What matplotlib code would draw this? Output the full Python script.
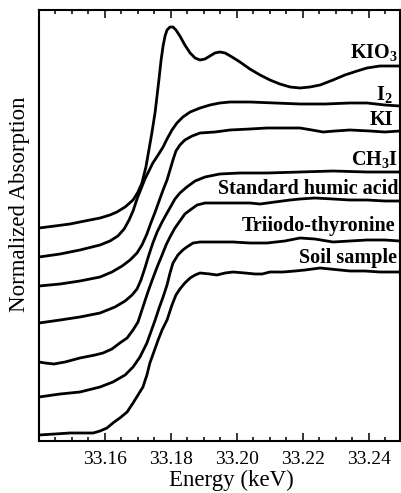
import matplotlib
matplotlib.use('Agg')
import matplotlib.pyplot as plt
from matplotlib.ticker import MultipleLocator, FixedLocator

plt.rcParams['font.family'] = ['Liberation Serif', 'DejaVu Serif']
plt.rcParams['mathtext.default'] = 'regular'

# I K-edge XANES spectra, stacked with a vertical offset for display
kio3_e = [33.1400, 33.1448, 33.1494, 33.1539, 33.1585, 33.1615, 33.1636, 33.1661, 33.1685, 33.1700,
          33.1712, 33.1724, 33.1733, 33.1742, 33.1752, 33.1758, 33.1764, 33.1770, 33.1776, 33.1782,
          33.1788, 33.1797, 33.1806, 33.1815, 33.1827, 33.1842, 33.1858, 33.1873, 33.1888, 33.1903,
          33.1918, 33.1933, 33.1948, 33.1964, 33.1985, 33.2009, 33.2039, 33.2070, 33.2100, 33.2130,
          33.2161, 33.2191, 33.2221, 33.2252, 33.2291, 33.2327, 33.2364, 33.2394, 33.2433, 33.2464,
          33.2494]
kio3_a = [2.13, 2.15, 2.17, 2.20, 2.23, 2.26, 2.29, 2.34, 2.41, 2.49,
          2.58, 2.74, 2.91, 3.08, 3.29, 3.46, 3.63, 3.81, 3.95, 4.05,
          4.11, 4.14, 4.14, 4.11, 4.05, 3.96, 3.88, 3.83, 3.81, 3.82,
          3.85, 3.88, 3.89, 3.88, 3.84, 3.79, 3.72, 3.66, 3.61, 3.57,
          3.54, 3.53, 3.54, 3.56, 3.61, 3.66, 3.70, 3.73, 3.75, 3.75,
          3.75]

i2_e = [33.1400, 33.1464, 33.1524, 33.1585, 33.1615, 33.1639, 33.1658, 33.1673, 33.1685, 33.1697,
        33.1709, 33.1721, 33.1733, 33.1745, 33.1761, 33.1776, 33.1788, 33.1803, 33.1818, 33.1836,
        33.1858, 33.1888, 33.1918, 33.1948, 33.1979, 33.2039, 33.2115, 33.2191, 33.2267, 33.2342,
        33.2394, 33.2448, 33.2494]
i2_a = [1.84, 1.87, 1.91, 1.96, 2.00, 2.05, 2.12, 2.21, 2.30, 2.42,
        2.52, 2.62, 2.70, 2.78, 2.86, 2.94, 3.02, 3.11, 3.18, 3.24,
        3.29, 3.33, 3.36, 3.38, 3.39, 3.39, 3.38, 3.37, 3.37, 3.38,
        3.38, 3.36, 3.35]

ki_e = [33.1400, 33.1464, 33.1524, 33.1585, 33.1621, 33.1652, 33.1676, 33.1697, 33.1712, 33.1727,
        33.1739, 33.1752, 33.1764, 33.1776, 33.1788, 33.1797, 33.1806, 33.1815, 33.1827, 33.1842,
        33.1864, 33.1888, 33.1933, 33.1979, 33.2039, 33.2091, 33.2145, 33.2191, 33.2227, 33.2261,
        33.2297, 33.2342, 33.2403, 33.2448, 33.2494]
ki_a = [1.55, 1.57, 1.60, 1.64, 1.69, 1.75, 1.81, 1.88, 1.96, 2.07,
        2.18, 2.29, 2.40, 2.51, 2.61, 2.71, 2.81, 2.90, 2.96, 3.01,
        3.05, 3.08, 3.09, 3.11, 3.12, 3.13, 3.13, 3.13, 3.11, 3.09,
        3.10, 3.11, 3.10, 3.09, 3.10]

ch3i_e = [33.1400, 33.1464, 33.1524, 33.1585, 33.1630, 33.1661, 33.1682, 33.1697, 33.1709, 33.1721,
          33.1733, 33.1745, 33.1758, 33.1773, 33.1788, 33.1800, 33.1812, 33.1827, 33.1848, 33.1873,
          33.1903, 33.1948, 33.2009, 33.2091, 33.2191, 33.2291, 33.2394, 33.2494]
ch3i_a = [1.18, 1.21, 1.24, 1.28, 1.34, 1.40, 1.46, 1.52, 1.61, 1.73,
          1.86, 1.98, 2.09, 2.19, 2.28, 2.35, 2.42, 2.48, 2.54, 2.60,
          2.64, 2.67, 2.68, 2.68, 2.69, 2.70, 2.69, 2.69]

humic_e = [33.1400, 33.1418, 33.1445, 33.1479, 33.1524, 33.1570, 33.1594, 33.1621, 33.1645, 33.1667,
           33.1685, 33.1700, 33.1715, 33.1730, 33.1742, 33.1758, 33.1773, 33.1785, 33.1797, 33.1812,
           33.1827, 33.1842, 33.1858, 33.1879, 33.1903, 33.1933, 33.1964, 33.1994, 33.2039, 33.2070,
           33.2115, 33.2161, 33.2191, 33.2236, 33.2291, 33.2342, 33.2394, 33.2448, 33.2494]
humic_a = [0.79, 0.78, 0.77, 0.79, 0.83, 0.86, 0.88, 0.92, 0.98, 1.03,
           1.11, 1.19, 1.34, 1.49, 1.60, 1.74, 1.86, 1.96, 2.04, 2.13,
           2.20, 2.27, 2.31, 2.36, 2.38, 2.38, 2.38, 2.38, 2.38, 2.37,
           2.39, 2.41, 2.42, 2.43, 2.42, 2.41, 2.41, 2.40, 2.40]

t3_e = [33.1400, 33.1464, 33.1524, 33.1585, 33.1624, 33.1661, 33.1685, 33.1706, 33.1727, 33.1739,
        33.1752, 33.1764, 33.1776, 33.1788, 33.1797, 33.1806, 33.1821, 33.1836, 33.1848, 33.1867,
        33.1888, 33.1933, 33.1988, 33.2039, 33.2091, 33.2145, 33.2191, 33.2236, 33.2291, 33.2342,
        33.2394, 33.2448, 33.2494]
t3_a = [0.44, 0.47, 0.49, 0.54, 0.59, 0.66, 0.74, 0.84, 0.98, 1.09,
        1.21, 1.33, 1.44, 1.56, 1.68, 1.78, 1.86, 1.91, 1.94, 1.98,
        1.99, 1.99, 1.99, 1.98, 1.98, 2.00, 2.03, 2.02, 1.99, 2.00,
        2.01, 2.01, 2.00]

soil_e = [33.1400, 33.1448, 33.1494, 33.1539, 33.1564, 33.1585, 33.1606, 33.1624, 33.1645, 33.1667,
          33.1685, 33.1700, 33.1715, 33.1727, 33.1736, 33.1748, 33.1761, 33.1773, 33.1788, 33.1803,
          33.1815, 33.1827, 33.1842, 33.1858, 33.1873, 33.1888, 33.1918, 33.1939, 33.1964, 33.1988,
          33.2024, 33.2055, 33.2076, 33.2100, 33.2139, 33.2176, 33.2206, 33.2252, 33.2282, 33.2312,
          33.2342, 33.2388, 33.2433, 33.2494]
soil_a = [0.06, 0.07, 0.08, 0.08, 0.08, 0.10, 0.13, 0.18, 0.23, 0.29,
          0.38, 0.46, 0.54, 0.66, 0.78, 0.89, 1.01, 1.11, 1.21, 1.36,
          1.46, 1.52, 1.58, 1.63, 1.66, 1.68, 1.67, 1.66, 1.68, 1.69,
          1.68, 1.67, 1.67, 1.69, 1.69, 1.70, 1.71, 1.73, 1.72, 1.71,
          1.70, 1.70, 1.69, 1.69]

spectra = [(kio3_e, kio3_a), (i2_e, i2_a), (ki_e, ki_a), (ch3i_e, ch3i_a),
           (humic_e, humic_a), (t3_e, t3_a), (soil_e, soil_a)]

# sample names and where each sits at the right edge (axes fraction: right x, baseline y)
names = ['KIO$_3$', 'I$_2$', 'KI', 'CH$_3$I', 'Standard humic acid',
         'Triiodo-thyronine', 'Soil sample']
name_x = [0.9945, 0.9806, 0.9806, 0.9945, 0.9972, 0.9861, 0.9917]
name_y = [0.8886, 0.7912, 0.7332, 0.6404, 0.5731, 0.4872, 0.4130]

energy_ticks = [33.16, 33.18, 33.20, 33.22, 33.24]

fig = plt.figure(figsize=(4.01, 4.93), dpi=100)
ax = fig.add_axes([39 / 401, 52 / 493, 361 / 401, 431 / 493])

for e, a in spectra:
    ax.plot(e, a, color='black', lw=2.0, solid_capstyle='round', solid_joinstyle='round')

for name, x, y in zip(names, name_x, name_y):
    ax.text(x, y, name, transform=ax.transAxes, ha='right', va='baseline',
            fontsize=14.5, fontweight='bold')

ax.set_xlim(33.14, 33.2494)
ax.set_ylim(0, 4.31)
ax.set_yticks([])
ax.xaxis.set_major_locator(FixedLocator(energy_ticks))
ax.xaxis.set_minor_locator(MultipleLocator(0.005))
ax.xaxis.set_major_formatter(plt.FormatStrFormatter('%.2f'))
ax.tick_params(axis='x', which='both', direction='in', top=True, width=1.1,
               labelsize=14, pad=7)
ax.tick_params(axis='x', which='major', length=6)
ax.tick_params(axis='x', which='minor', length=3)
for sp in ax.spines.values():
    sp.set_linewidth(1.5)

ax.set_xlabel('Energy (keV)', fontsize=16.5)
ax.xaxis.set_label_coords(0.532, -0.068)
ax.set_ylabel('Normalized Absorption', fontsize=16.5, va='center')
ax.yaxis.set_label_coords(-0.053, 0.55)

fig.savefig('out.png', dpi=100)
